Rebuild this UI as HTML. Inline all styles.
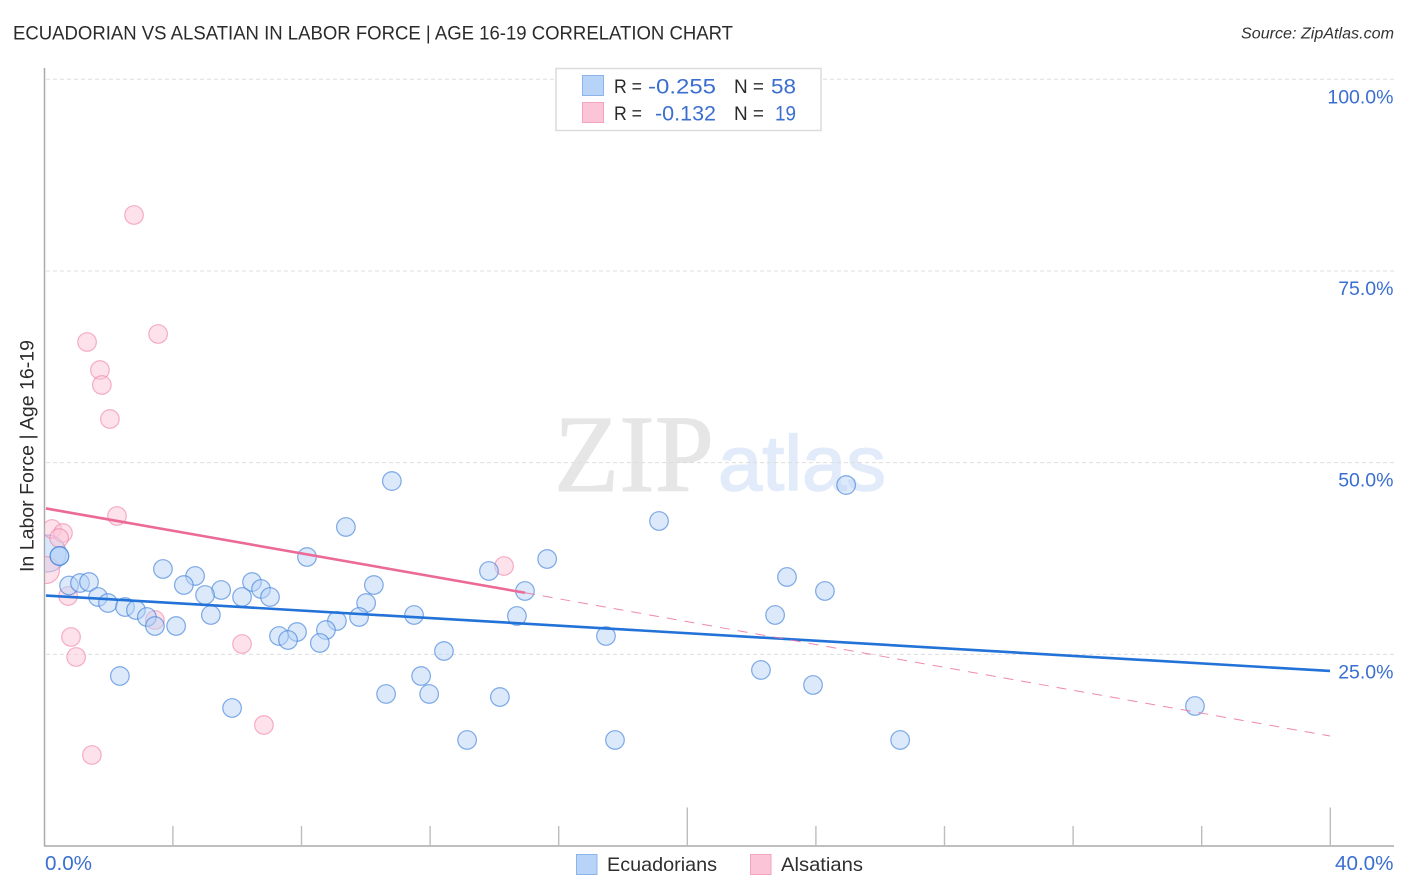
<!DOCTYPE html>
<html lang="en">
<head>
<meta charset="utf-8">
<title>Ecuadorian vs Alsatian in Labor Force | Age 16-19 Correlation Chart</title>
<style>
html,body{margin:0;padding:0;background:#fff;width:1406px;height:892px;overflow:hidden}
svg{display:block;font-family:"Liberation Sans",sans-serif}
</style>
</head>
<body>
<svg id="chart" width="1406" height="892" viewBox="0 0 1406 892" xmlns="http://www.w3.org/2000/svg">
  <defs><clipPath id="plot-clip"><rect x="45" y="60" width="1349" height="786"/></clipPath></defs>
  <text x="13" y="39.5" font-size="19.5" fill="#2b2b2b" textLength="720" lengthAdjust="spacingAndGlyphs">ECUADORIAN VS ALSATIAN IN LABOR FORCE | AGE 16-19 CORRELATION CHART</text>
  <text x="1394" y="38.5" font-size="15.5" font-style="italic" fill="#333" text-anchor="end" textLength="153" lengthAdjust="spacingAndGlyphs">Source: ZipAtlas.com</text>
  <g>
    <text x="554" y="491" font-family="'Liberation Serif',serif" font-size="110" fill="#e6e6e6" stroke="#e6e6e6" stroke-width="1" textLength="160" lengthAdjust="spacingAndGlyphs">ZIP</text>
    <text x="718" y="490" font-size="78" fill="#e2ebfa" stroke="#e2ebfa" stroke-width="1.5" textLength="168" lengthAdjust="spacingAndGlyphs">atlas</text>
  </g>
  <g id="grid"></g>
  <g id="axes"></g>
  <g id="points" clip-path="url(#plot-clip)"></g>
  <g id="trends"></g>
  <g id="labels"></g>
  <text transform="translate(33.5,572) rotate(-90)" font-size="19.5" fill="#2b2b2b" textLength="232" lengthAdjust="spacingAndGlyphs">In Labor Force | Age 16-19</text>

  <g>
    <rect x="556" y="68.5" width="265" height="62" fill="#fff" stroke="#dcdcdc" stroke-width="1.5"/>
    <rect x="582.5" y="75.5" width="21" height="20" fill="#b8d3f8" stroke="#8db4ea" stroke-width="1"/>
    <rect x="582.5" y="102.5" width="21" height="20" fill="#fcc5d7" stroke="#f2a3bd" stroke-width="1"/>
    <g>
      <text x="614" y="93" fill="#2b2b2b" font-size="19" textLength="28" lengthAdjust="spacingAndGlyphs">R =</text>
      <text x="648" y="93.5" fill="#3a6fd0" font-size="21.5" textLength="68" lengthAdjust="spacingAndGlyphs">-0.255</text>
      <text x="734" y="93" fill="#2b2b2b" font-size="19" textLength="30" lengthAdjust="spacingAndGlyphs">N =</text>
      <text x="771" y="93.5" fill="#3a6fd0" font-size="21.5" textLength="25" lengthAdjust="spacingAndGlyphs">58</text>
      <text x="614" y="120" fill="#2b2b2b" font-size="19" textLength="28" lengthAdjust="spacingAndGlyphs">R =</text>
      <text x="655" y="120.5" fill="#3a6fd0" font-size="21.5" textLength="61" lengthAdjust="spacingAndGlyphs">-0.132</text>
      <text x="734" y="120" fill="#2b2b2b" font-size="19" textLength="30" lengthAdjust="spacingAndGlyphs">N =</text>
      <text x="775" y="120.5" fill="#3a6fd0" font-size="21.5" textLength="21" lengthAdjust="spacingAndGlyphs">19</text>
    </g>
  </g>

  <g>
    <rect x="576.5" y="854.5" width="20.5" height="20" fill="#b8d3f8" stroke="#8db4ea" stroke-width="1"/>
    <text x="607" y="871" font-size="19.5" fill="#2f2f2f" textLength="110" lengthAdjust="spacingAndGlyphs">Ecuadorians</text>
    <rect x="750.5" y="854.5" width="20.5" height="20" fill="#fcc5d7" stroke="#f2a3bd" stroke-width="1"/>
    <text x="781" y="871" font-size="19.5" fill="#2f2f2f" textLength="82" lengthAdjust="spacingAndGlyphs">Alsatians</text>
  </g>
</svg>
<script>
// Chart data (percent units)
var xTickValues = [0, 4, 8, 12, 16, 20, 24, 28, 32, 36, 40];
var xMajorTicks = [20, 40];
var xTickLabels = ["0.0%", "40.0%"];
var yTickValues = [25, 50, 75, 100];
var yTickLabels = ["25.0%", "50.0%", "75.0%", "100.0%"];

var ecuadorianX = [10.82,24.95,19.13,9.39,15.65,8.18,0.48,0.48,3.70,4.70,4.35,0.78,1.12,1.40,6.47,6.75,5.51,5.01,6.16,7.03,1.68,1.99,2.52,2.86,3.20,3.45,4.11,5.19,10.02,10.26,13.84,14.96,23.11,24.29,22.74,14.71,11.51,9.80,9.11,8.77,7.87,7.31,7.59,8.58,17.48,12.44,11.73,2.36,10.64,11.98,14.18,22.30,23.92,5.85,13.16,17.76,26.63,35.80];
var ecuadorianY = [47.60,47.08,42.39,41.61,37.43,37.69,37.82,37.82,36.13,35.22,34.04,33.98,34.30,34.43,34.43,33.52,33.39,32.74,32.48,32.48,32.48,31.69,31.17,30.78,29.87,28.69,28.69,30.13,31.69,34.04,35.87,33.26,35.09,33.26,30.13,30.00,30.13,29.87,29.35,28.17,27.91,27.39,26.87,26.48,27.39,25.43,22.17,22.17,19.83,19.83,19.43,22.96,21.00,18.00,13.83,13.83,13.83,18.26];

var alsatianX = [2.80,3.55,1.34,1.74,1.80,2.05,2.27,0.25,0.59,0.47,0.06,0.75,3.45,0.84,1.00,6.16,6.84,1.49,14.31];
var alsatianY = [82.30,66.78,65.74,62.08,60.13,55.69,43.04,41.35,40.82,40.17,35.99,32.61,29.48,27.26,24.65,26.35,15.78,11.87,36.52];
var alsatianWeight = [1,1,1,1,1,1,1,1,1,1,2,1,1,1,1,1,1,1,1];

var largeEcuadorianX = [0.11];
var largeEcuadorianY = [38.15];

var ecuadorianTrendX = [0.06, 40];
var ecuadorianTrendY = [32.67, 22.83];
var alsatianSolidX = [0.06, 14.96];
var alsatianSolidY = [44.03, 33.03];
var alsatianDashX = [14.96, 40];
var alsatianDashY = [33.03, 14.35];

// Axis functions
var NS = "http://www.w3.org/2000/svg";
function sx(v){ return 44 + v * 32.15; }
function sy(v){ return 846 - v * 7.667; }
function mk(tag, attrs, parent){
  var el = document.createElementNS(NS, tag);
  for (var k in attrs) el.setAttribute(k, attrs[k]);
  parent.appendChild(el);
  return el;
}
var grid = document.getElementById("grid");
var axes = document.getElementById("axes");
var pts = document.getElementById("points");
var trends = document.getElementById("trends");
var labels = document.getElementById("labels");

yTickValues.forEach(function(v, i){
  var g = mk("line", {x1:46, x2:1394, y1:sy(v), y2:sy(v), stroke:"#dddddd", "stroke-width":1, "stroke-dasharray":"4 3"}, grid);
  
  
  var t = mk("text", {x:1393.5, y:sy(v) + 24, "font-size":19.5, fill:"#3a6fd0", "text-anchor":"end"}, labels);
  t.textContent = yTickLabels[i];
  
  
});

var yAxis = mk("line", {x1:44.5, x2:44.5, y1:68, y2:846, stroke:"#aaaaaa", "stroke-width":1.5}, axes);


var xAxis = mk("line", {x1:44, x2:1394, y1:846, y2:846, stroke:"#aaaaaa", "stroke-width":1.5}, axes);



xTickValues.forEach(function(v){
  if (v === 0) return;
  var top = xMajorTicks.indexOf(v) >= 0 ? 807.5 : 826;
  var tk = mk("line", {x1:sx(v) + 0.3, x2:sx(v) + 0.3, y1:top, y2:846, stroke:"#bdbdbd", "stroke-width":1.4}, axes);
  
  
});

var xl0 = mk("text", {x:45, y:870, "font-size":20.5, fill:"#3a6fd0", textLength:47, lengthAdjust:"spacingAndGlyphs"}, labels);
xl0.textContent = xTickLabels[0];


var xl1 = mk("text", {x:1335, y:870, "font-size":20.5, fill:"#3a6fd0", textLength:58.5, lengthAdjust:"spacingAndGlyphs"}, labels);
xl1.textContent = xTickLabels[1];



// Points
largeEcuadorianX.forEach(function(v, i){
  var c = mk("circle", {cx:sx(v), cy:sy(largeEcuadorianY[i]), r:18.5, fill:"#b8d3f8", "fill-opacity":0.55, stroke:"#3f7fd8", "stroke-opacity":0.6, "stroke-width":1.2}, pts);
  
  
});
alsatianX.forEach(function(v, i){
  var c = mk("circle", {cx:sx(v), cy:sy(alsatianY[i]), r:alsatianWeight[i] > 1 ? 13.5 : 9.3, fill:"#fcc5d7", "fill-opacity":0.5, stroke:"#ee7fa5", "stroke-opacity":0.6, "stroke-width":1.2}, pts);
  
  
});
ecuadorianX.forEach(function(v, i){
  var c = mk("circle", {cx:sx(v), cy:sy(ecuadorianY[i]), r:9.3, fill:"#b8d3f8", "fill-opacity":0.5, stroke:"#3f7fd8", "stroke-opacity":0.65, "stroke-width":1.2}, pts);
  
  
});

// Trend lines
var tb = mk("line", {x1:sx(ecuadorianTrendX[0]), y1:sy(ecuadorianTrendY[0]), x2:sx(ecuadorianTrendX[1]), y2:sy(ecuadorianTrendY[1]), stroke:"#2272d8", "stroke-width":2.6}, trends);


var tp = mk("line", {x1:sx(alsatianSolidX[0]), y1:sy(alsatianSolidY[0]), x2:sx(alsatianSolidX[1]), y2:sy(alsatianSolidY[1]), stroke:"#ec6a98", "stroke-width":2.6}, trends);


var td = mk("line", {x1:sx(alsatianDashX[0]), y1:sy(alsatianDashY[0]), x2:sx(alsatianDashX[1]), y2:sy(alsatianDashY[1]), stroke:"#ec6a98", "stroke-width":1, "stroke-dasharray":"10 8", "stroke-opacity":0.8}, trends);


</script>
</body>
</html>
